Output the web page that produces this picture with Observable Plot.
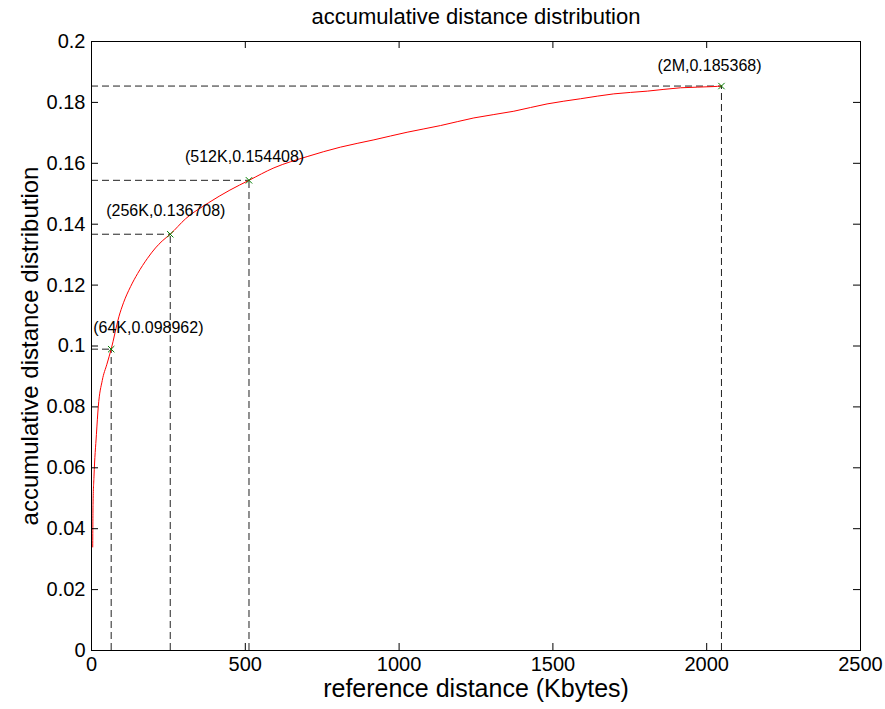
<!DOCTYPE html>
<html>
<head>
<meta charset="utf-8">
<script src="https://cdn.jsdelivr.net/npm/d3@7"></script>
<script src="https://cdn.jsdelivr.net/npm/@observablehq/plot@0.6"></script>
<style>
  html, body { margin: 0; padding: 0; background: #fff; }
</style>
</head>
<body>
<div id="chart"></div>
<script>
// Curve: reference distance (Kbytes) vs accumulative distribution
const curveX = [4, 5, 8, 16, 22, 35, 50, 64, 89, 104, 127, 150, 182, 208, 230, 256, 306, 380, 450, 512, 593, 701, 809, 918, 1026, 1135, 1243, 1373, 1481, 1590, 1698, 1807, 1915, 2023, 2048];
const curveY = [0.034, 0.048, 0.057, 0.071, 0.080, 0.0887, 0.094, 0.098962, 0.1096, 0.1142, 0.1195, 0.1238, 0.1288, 0.1322, 0.1345, 0.136708, 0.1418, 0.1470, 0.1512, 0.154408, 0.1585, 0.1622, 0.1653, 0.1677, 0.1702, 0.1724, 0.1749, 0.1771, 0.1795, 0.1812, 0.1828, 0.1837, 0.1848, 0.1852, 0.185368];

// Marked points
const markX = [64, 256, 512, 2048];
const markY = [0.098962, 0.136708, 0.154408, 0.185368];
const markLabels = ["(64K,0.098962)", "(256K,0.136708)", "(512K,0.154408)", "(2M,0.185368)"];

// Axes
const xTicks = [0, 500, 1000, 1500, 2000, 2500];
const yTicks = [0, 0.02, 0.04, 0.06, 0.08, 0.1, 0.12, 0.14, 0.16, 0.18, 0.2];
const titleText = "accumulative distance distribution";
const xLabel = "reference distance (Kbytes)";
const yLabel = "accumulative distance distribution";

const curve = curveX.map((x, i) => ({x, y: curveY[i]}));
const marks = markX.map((x, i) => ({x, y: markY[i], label: markLabels[i]}));

const W = 885, H = 709;
const mL = 91, mR = 25, mT = 41, mB = 59;
const fw = W - mL - mR, fh = H - mT - mB;
const tl = 7;
const font = "'Liberation Sans', Arial, Helvetica, sans-serif";

const chart = Plot.plot({
  width: W,
  height: H,
  marginLeft: mL, marginRight: mR, marginTop: mT, marginBottom: mB,
  style: {fontFamily: font, fontSize: "20px", color: "#000", background: "#fff"},
  x: {domain: [0, 2500]},
  y: {domain: [0, 0.2]},
  marks: [
    // dashed guide lines
    Plot.ruleY(marks, {y: "y", x1: 0, x2: "x", stroke: "#222", strokeWidth: 1, strokeDasharray: "7,4"}),
    Plot.ruleX(marks, {x: "x", y1: 0, y2: "y", stroke: "#222", strokeWidth: 1, strokeDasharray: "7,4"}),
    // curve
    Plot.line(curve, {x: "x", y: "y", stroke: "#ff0000", strokeWidth: 1, curve: "monotone-x"}),
    // markers
    Plot.dot(marks, {x: "x", y: "y", symbol: "times", r: 3, stroke: "#008000", strokeWidth: 1}),
    // annotation labels
    Plot.text(marks.slice(0, 1), {x: "x", y: "y", text: "label", textAnchor: "start", dx: -18, dy: -21, fontSize: 16, fill: "#000"}),
    Plot.text(marks.slice(1, 3), {x: "x", y: "y", text: "label", textAnchor: "start", dx: -64, dy: -23, fontSize: 16, fill: "#000"}),
    Plot.text(marks.slice(3), {x: "x", y: "y", text: "label", textAnchor: "start", dx: -64, dy: -20, fontSize: 16, fill: "#000"}),
    // inward ticks (all four sides)
    Plot.tickX(xTicks, {x: d => d, insetTop: fh - tl, stroke: "#000"}),
    Plot.tickX(xTicks, {x: d => d, insetBottom: fh - tl, stroke: "#000"}),
    Plot.tickY(yTicks, {y: d => d, insetRight: fw - tl, stroke: "#000"}),
    Plot.tickY(yTicks, {y: d => d, insetLeft: fw - tl, stroke: "#000"}),
    // tick labels
    Plot.axisX(xTicks, {anchor: "bottom", tickSize: 0, tickPadding: 6, label: null, fontSize: 20, tickFormat: d => String(d)}),
    Plot.axisY(yTicks, {anchor: "left", tickSize: 0, tickPadding: 6, label: null, fontSize: 20, tickFormat: d => String(+d.toFixed(2))}),
    Plot.frame({stroke: "#000", strokeWidth: 1}),
    // title & axis labels
    Plot.text([titleText], {frameAnchor: "top", textAnchor: "middle", lineAnchor: "middle", dy: -25, fontSize: 22, fill: "#000"}),
    Plot.text([xLabel], {frameAnchor: "bottom", textAnchor: "middle", lineAnchor: "middle", dy: 38, fontSize: 25, fill: "#000"}),
    Plot.text([yLabel], {frameAnchor: "left", textAnchor: "middle", lineAnchor: "middle", dx: -61, rotate: -90, fontSize: 24, fill: "#000"})
  ]
});
document.getElementById("chart").appendChild(chart);
</script>
</body>
</html>
